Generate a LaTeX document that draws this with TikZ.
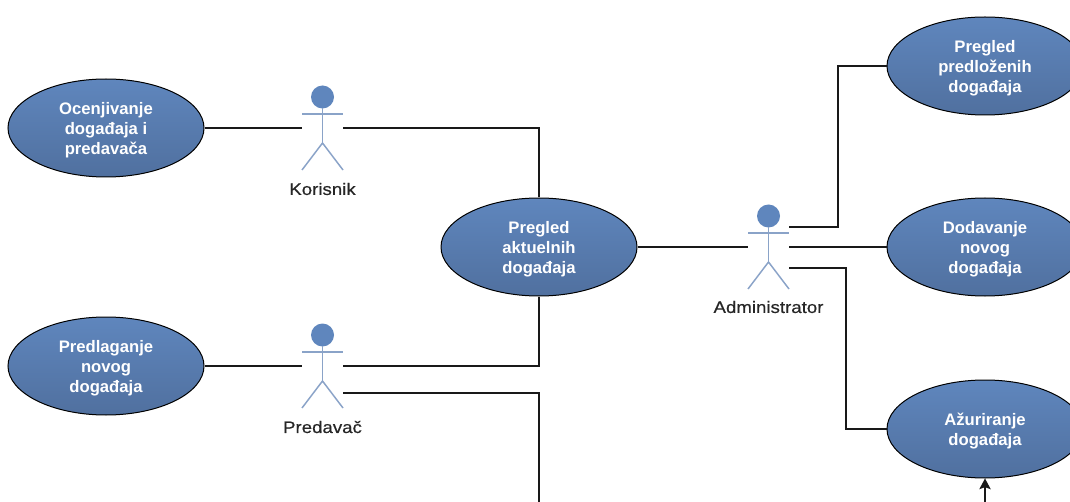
\documentclass[tikz,border=0pt]{standalone}
\usepackage{fontspec}
\setmainfont{Liberation Sans}
\newfontfamily\actorfont[FakeStretch=1.12, FakeBold=.4]{Liberation Sans}
\usetikzlibrary{shapes.geometric, arrows.meta}
\definecolor{usetop}{HTML}{5F86BD}
\definecolor{usebot}{HTML}{50709F}
\definecolor{stick}{HTML}{8AA3C8}
\newcommand\firstline{\rule{0pt}{13pt}}
\tikzset{
  usecase/.style={ellipse, draw=black, line width=.75pt, top color=usetop, bottom color=usebot,
    minimum width=147pt, minimum height=73.5pt, inner sep=0pt, align=center, text=white,
    font=\fontsize{12.5pt}{15pt}\selectfont\bfseries},
  actor/.style={minimum width=30.75pt, minimum height=63pt, inner sep=0pt},
  actorname/.style={font=\fontsize{12.5pt}{14pt}\selectfont\actorfont, text=black!85},
  wire/.style={line width=.9pt, black!90},
  pics/stickman/.style={code={
    \fill [usetop] (0, -31) circle (11.5);
    \draw [stick, line width=1.1pt] (-20.5, -14)--(20.5, -14);
    \draw [stick, line width=1.1pt] (0, -20)--(0, 15);
    \draw [stick, line width=1.1pt] (-20.5, 42)--(0, 15)--(20.5, 42);
  }}
}
\begin{document}
\begin{tikzpicture}[x=.75pt, y=-.75pt]
\useasboundingbox [clip] (0, 0) rectangle (1070, 502);
\fill [white] (0, 0) rectangle (1070, 502);

% use cases
\node (ocenjivanje) [usecase] at (106, 128) {\firstline Ocenjivanje\\događaja i\\predavača};
\node (predlaganje) [usecase] at (106, 366) {\firstline Predlaganje\\novog\\događaja};
\node (aktuelni) [usecase] at (539, 247) {\firstline Pregled\\aktuelnih\\događaja};
\node (predlozeni) [usecase] at (985, 66) {\firstline Pregled\\predloženih\\događaja};
\node (dodavanje) [usecase] at (985, 247) {\firstline Dodavanje\\novog\\događaja};
\node (azuriranje) [usecase] at (985, 429) {\firstline Ažuriranje\\događaja};

% actors
\node (korisnik) [actor] at (322.5, 128) {};
\node (predavac) [actor] at (322.5, 366) {};
\node (administrator) [actor] at (768.5, 247) {};
\path (322.5, 128) pic {stickman};
\path (322.5, 366) pic {stickman};
\path (768.5, 247) pic {stickman};
\node (korisniklabel) [actorname] at (322.5, 189) {Korisnik};
\node (predavaclabel) [actorname] at (322.5, 427) {Predavač};
\node (administratorlabel) [actorname] at (768.5, 307) {Administrator};

% free ends at the bottom edge
\coordinate (izlaz) at (539, 502);
\coordinate (ulaz) at (985, 502);

\draw [wire] (ocenjivanje)--(korisnik);
\draw [wire] (predlaganje)--(predavac);
\draw [wire] (korisnik.east)-|(aktuelni.north);
\draw [wire] (predavac.east)-|(aktuelni.south);
\draw [wire] ([yshift=-20.25pt]predavac.east)-|(izlaz);
\draw [wire] (aktuelni)--(administrator);
\draw [wire] (administrator)--(dodavanje);
\draw [wire] ([yshift=15pt]administrator.east)-|(838, 66)--(predlozeni.west);
\draw [wire] ([yshift=-15.75pt]administrator.east)-|(846, 429)--(azuriranje.west);
\draw [wire, -{Stealth[length=8pt, width=8.5pt, inset=1.5pt]}] (ulaz)--(azuriranje.south);
\end{tikzpicture}
\end{document}
